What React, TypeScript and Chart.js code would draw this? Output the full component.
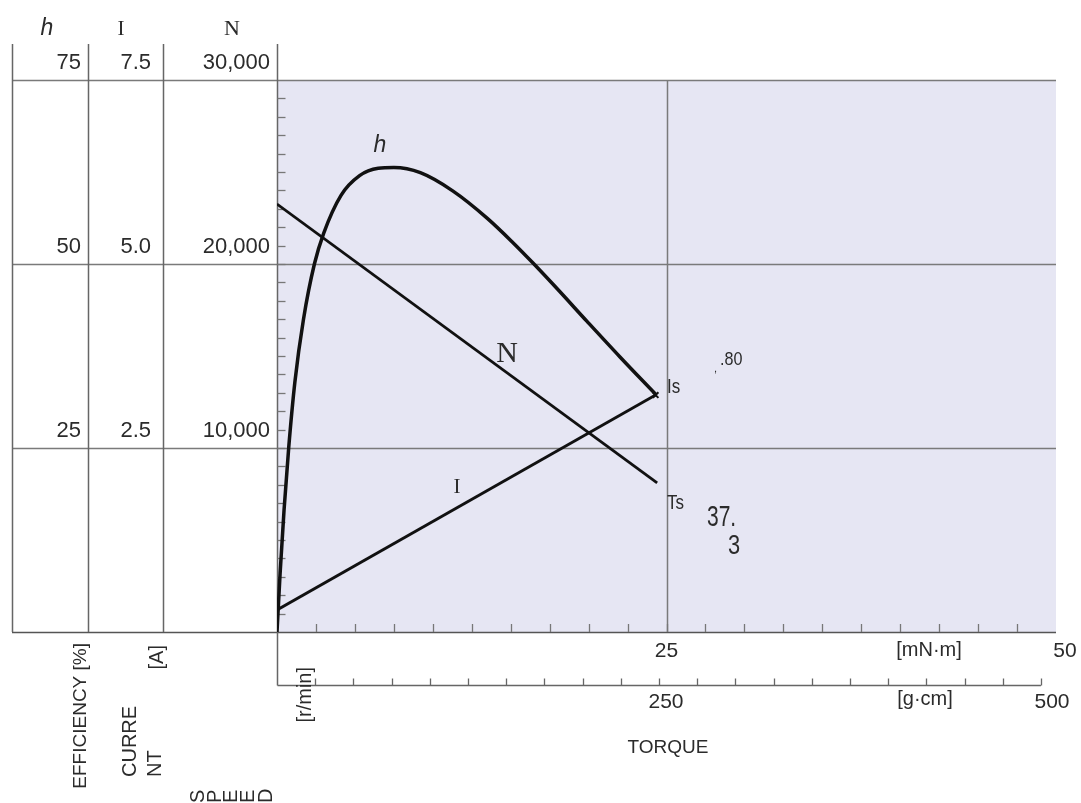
import React, { useEffect, useRef } from "react";
import { Chart, registerables } from "chart.js";

Chart.register(...registerables);

// Torque in mN·m
const effTorque = [0, 0.2, 0.45, 0.75, 1.15, 1.7, 2.4, 3.0, 4.1, 5.3, 6.5, 7.5, 9.2, 11.3, 13.5, 15.1, 16.4, 18.0, 19.9, 22.0, 24.3];
const efficiency = [0, 8, 16.5, 25, 34, 42.5, 50, 54.2, 59.3, 62, 63, 63.1, 62.4, 59.9, 56.2, 53.0, 50.2, 46.6, 42.2, 37.4, 32.3];

const speedTorque = [0, 24.4];
const speed = [23260, 8100];

const currentTorque = [0, 24.3];
const current = [0.3, 3.22];

const effTicks = ["25", "50", "75"];
const curTicks = ["2.5", "5.0", "7.5"];
const speedTickValues = [10000, 20000, 30000];
const speedTickLabels = ["10,000", "20,000", "30,000"];

const GCM_TO_MNM = 0.0980665;

const SANS = '"Liberation Sans", Arial, sans-serif';
const SERIF = '"Liberation Serif", "Times New Roman", serif';

export default function App() {
  const ref = useRef<HTMLCanvasElement | null>(null);

  useEffect(() => {
    const canvas = ref.current;
    if (!canvas) return;

    const decor = {
      id: "decor",
      beforeDraw(chart: any) {
        const ctx = chart.ctx as CanvasRenderingContext2D;
        const { left, right, top, bottom } = chart.chartArea;
        const x = chart.scales.x;
        const y = chart.scales.speedY;
        ctx.save();
        ctx.fillStyle = "#ffffff";
        ctx.fillRect(0, 0, chart.width, chart.height);
        ctx.fillStyle = "#e6e6f3";
        ctx.fillRect(left, top, right - left, bottom - top);

        // horizontal table/grid lines
        ctx.strokeStyle = "#7a7a7a";
        ctx.lineWidth = 1.5;
        const zeroY = y.getPixelForValue(0);
        speedTickValues.forEach((v) => {
          const py = Math.round(y.getPixelForValue(v)) + 0.5;
          ctx.beginPath();
          ctx.moveTo(12, py);
          ctx.lineTo(right, py);
          ctx.stroke();
        });
        ctx.strokeStyle = "#555";
        ctx.beginPath();
        ctx.moveTo(12, Math.round(zeroY) + 0.5);
        ctx.lineTo(right, Math.round(zeroY) + 0.5);
        ctx.stroke();

        // vertical grid at 25
        ctx.strokeStyle = "#7a7a7a";
        const px25 = Math.round(x.getPixelForValue(25)) + 0.5;
        ctx.beginPath();
        ctx.moveTo(px25, top);
        ctx.lineTo(px25, bottom);
        ctx.stroke();

        // table vertical lines
        ctx.strokeStyle = "#666";
        [12, 88, 163].forEach((vx) => {
          ctx.beginPath();
          ctx.moveTo(vx + 0.5, 44);
          ctx.lineTo(vx + 0.5, zeroY);
          ctx.stroke();
        });
        // left axis line
        const x0 = Math.round(x.getPixelForValue(0)) + 0.5;
        const lowerY = 685.5;
        ctx.beginPath();
        ctx.moveTo(x0, 44);
        ctx.lineTo(x0, lowerY);
        ctx.stroke();

        // left ticks every 1000 r/min
        ctx.strokeStyle = "#777";
        ctx.lineWidth = 1.3;
        for (let v = 1000; v < 30000; v += 1000) {
          const py = Math.round(y.getPixelForValue(v)) + 0.5;
          ctx.beginPath();
          ctx.moveTo(x0, py);
          ctx.lineTo(x0 + 8, py);
          ctx.stroke();
        }
        // bottom ticks every 2.5 mN·m
        for (let t = 2.5; t < 50; t += 2.5) {
          const pxx = Math.round(x.getPixelForValue(t)) + 0.5;
          ctx.beginPath();
          ctx.moveTo(pxx, zeroY);
          ctx.lineTo(pxx, zeroY - 8);
          ctx.stroke();
        }
        // lower g·cm axis
        ctx.strokeStyle = "#666";
        ctx.lineWidth = 1.5;
        const endX = x.getPixelForValue(500 * GCM_TO_MNM);
        ctx.beginPath();
        ctx.moveTo(x0, lowerY);
        ctx.lineTo(endX, lowerY);
        ctx.stroke();
        ctx.lineWidth = 1.3;
        for (let g = 25; g <= 500; g += 25) {
          const pxx = Math.round(x.getPixelForValue(g * GCM_TO_MNM)) + 0.5;
          ctx.beginPath();
          ctx.moveTo(pxx, lowerY);
          ctx.lineTo(pxx, lowerY - 7);
          ctx.stroke();
        }
        ctx.restore();
      },
      afterDraw(chart: any) {
        const ctx = chart.ctx as CanvasRenderingContext2D;
        const x = chart.scales.x;
        const y = chart.scales.speedY;
        const color = "#2b2b2b";
        const txt = (s: string, tx: number, ty: number, font: string, align: CanvasTextAlign = "center", sx = 1) => {
          ctx.save();
          ctx.font = font;
          ctx.fillStyle = color;
          ctx.textAlign = align;
          ctx.textBaseline = "alphabetic";
          ctx.translate(tx, ty);
          ctx.scale(sx, 1);
          ctx.fillText(s, 0, 0);
          ctx.restore();
        };
        const rot = (s: string, tx: number, ty: number, font: string, align: CanvasTextAlign) => {
          ctx.save();
          ctx.font = font;
          ctx.fillStyle = color;
          ctx.translate(tx, ty);
          ctx.rotate(-Math.PI / 2);
          ctx.textAlign = align;
          ctx.textBaseline = "middle";
          ctx.fillText(s, 0, 0);
          ctx.restore();
        };

        // headers
        txt("h", 47, 35, `italic 23px ${SANS}`);
        txt("I", 121, 35, `21px ${SERIF}`);
        txt("N", 232, 35, `22px ${SERIF}`);

        // table values
        speedTickValues.forEach((v, i) => {
          const py = y.getPixelForValue(v) - 11;
          txt(effTicks[i], 81, py, `22px ${SANS}`, "right");
          txt(curTicks[i], 151, py, `22px ${SANS}`, "right");
          txt(speedTickLabels[i], 270, py, `22px ${SANS}`, "right");
        });

        // bottom axis labels
        txt("25", x.getPixelForValue(25), 657, `21px ${SANS}`);
        txt("[mN·m]", 929, 656, `20px ${SANS}`);
        txt("50", 1065, 657, `21px ${SANS}`);
        txt("250", x.getPixelForValue(250 * GCM_TO_MNM) + 7, 708, `21px ${SANS}`);
        txt("[g·cm]", 925, 705, `20px ${SANS}`);
        txt("500", 1052, 708, `21px ${SANS}`);
        txt("TORQUE", 668, 753, `19px ${SANS}`);

        // rotated axis titles
        rot("EFFICIENCY [%]", 81, 643, `19px ${SANS}`, "right");
        rot("[A]", 157, 645, `20px ${SANS}`, "right");
        rot("CURRE", 130, 777, `20px ${SANS}`, "left");
        rot("NT", 155, 777, `20px ${SANS}`, "left");
        rot("[r/min]", 305, 667, `20px ${SANS}`, "right");
        const speedLetters = ["S", "P", "E", "E", "D"];
        const letterX = [198, 215, 231, 248, 266];
        speedLetters.forEach((c, i) => rot(c, letterX[i], 803, `20px ${SANS}`, "left"));

        // curve labels
        txt("h", 380, 152, `italic 23px ${SANS}`);
        txt("N", 507, 362, `30px ${SERIF}`);
        txt("I", 457, 493, `21px ${SERIF}`);

        // annotations
        txt("Is", 667, 393, `20px ${SANS}`, "left", 0.85);
        txt("Ts", 667, 509, `20px ${SANS}`, "left", 0.85);
        txt(".80", 720, 365, `19px ${SANS}`, "left", 0.85);
        txt(",", 714, 372, `11px ${SANS}`, "left");
        txt("37.", 707, 526, `30px ${SANS}`, "left", 0.7);
        txt("3", 734, 554, `28px ${SANS}`, "center", 0.78);
      },
    };

    const chart = new Chart(canvas, {
      type: "line",
      data: {
        datasets: [
          {
            label: "h",
            data: effTorque.map((t, i) => ({ x: t, y: efficiency[i] })),
            yAxisID: "effY",
            borderColor: "#111",
            borderWidth: 3.5,
            pointRadius: 0,
            cubicInterpolationMode: "monotone",
            fill: false,
          },
          {
            label: "N",
            data: speedTorque.map((t, i) => ({ x: t, y: speed[i] })),
            yAxisID: "speedY",
            borderColor: "#111",
            borderWidth: 2.8,
            pointRadius: 0,
            fill: false,
          },
          {
            label: "I",
            data: currentTorque.map((t, i) => ({ x: t, y: current[i] })),
            yAxisID: "curY",
            borderColor: "#111",
            borderWidth: 2.8,
            pointRadius: (c: any) => (c.dataIndex === currentTorque.length - 1 ? 4 : 0),
            pointStyle: "crossRot",
            pointBorderColor: "#111",
            pointBorderWidth: 2,
            fill: false,
          },
        ],
      },
      options: {
        animation: false,
        responsive: false,
        events: [],
        layout: { padding: { left: 277, top: 80, right: 25, bottom: 171 } },
        plugins: { legend: { display: false }, tooltip: { enabled: false } },
        scales: {
          x: { type: "linear", axis: "x", min: 0, max: 50, display: false },
          speedY: { type: "linear", axis: "y", min: 0, max: 30000, display: false },
          effY: { type: "linear", axis: "y", min: 0, max: 75, display: false },
          curY: { type: "linear", axis: "y", min: 0, max: 7.5, display: false },
        },
      },
      plugins: [decor],
    } as any);

    return () => chart.destroy();
  }, []);

  return (
    <div style={{ position: "fixed", left: 0, top: 0, width: 1081, height: 803, background: "#fff" }}>
      <canvas ref={ref} width={1081} height={803} style={{ display: "block", width: 1081, height: 803 }} />
    </div>
  );
}
